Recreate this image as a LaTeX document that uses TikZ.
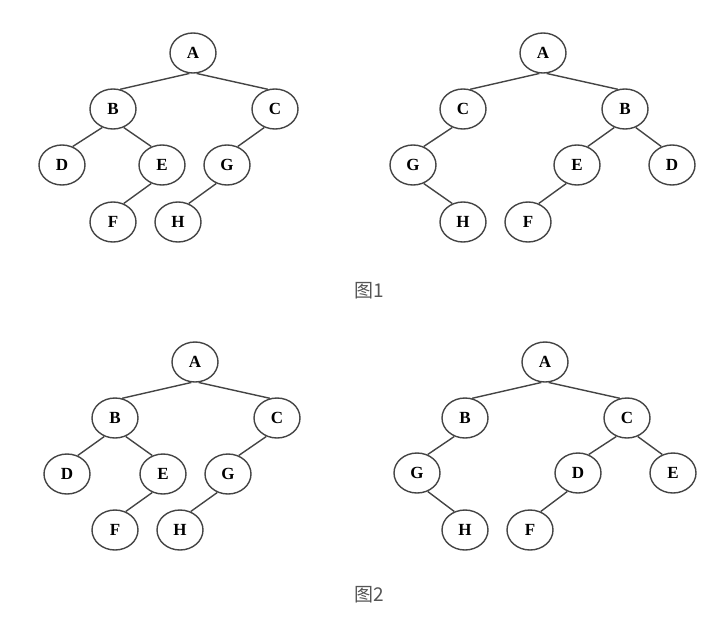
\documentclass[tikz,border=0pt]{standalone}
\usepackage{fontspec}
\setmainfont{Liberation Serif}
\newfontfamily\cjk{Noto Sans CJK SC}
\usetikzlibrary{shapes.geometric}
\definecolor{strokegray}{HTML}{444444}
\definecolor{capgray}{HTML}{555555}
\tikzset{
  tn/.style={ellipse, draw=strokegray, line width=1.4pt, minimum width=46pt, minimum height=40pt, inner sep=0pt, font=\fontsize{17}{17}\selectfont\bfseries, text=black},
  edge/.style={draw=strokegray, line width=1.4pt},
  captext/.style={font=\cjk\fontsize{19}{19}\selectfont, text=capgray, inner sep=0pt}
}
\newcommand\myTL[2]{\draw[edge] (#1.260) -- (#2.70);}
\newcommand\myTR[2]{\draw[edge] (#1.280) -- (#2.110);}
\newcommand\myL[2]{\draw[edge] (#1.240) -- (#2.60);}
\newcommand\myR[2]{\draw[edge] (#1.300) -- (#2.120);}
\begin{document}
\begin{tikzpicture}[x=1pt,y=-1pt]
\useasboundingbox (0,0) rectangle (719,618);
% top-left tree
\node[tn] (aA) at (193,53) {A};
\node[tn] (aB) at (113,109) {B};
\node[tn] (aC) at (275,109) {C};
\node[tn] (aD) at (62,165) {D};
\node[tn] (aE) at (162,165) {E};
\node[tn] (aG) at (227,165) {G};
\node[tn] (aF) at (113,222) {F};
\node[tn] (aH) at (178,222) {H};
\myTL{aA}{aB} \myTR{aA}{aC}
\myL{aB}{aD} \myR{aB}{aE} \myL{aC}{aG}
\myL{aE}{aF} \myL{aG}{aH}
% top-right tree
\node[tn] (bA) at (543,53) {A};
\node[tn] (bC) at (463,109) {C};
\node[tn] (bB) at (625,109) {B};
\node[tn] (bG) at (413,165) {G};
\node[tn] (bE) at (577,165) {E};
\node[tn] (bD) at (672,165) {D};
\node[tn] (bH) at (463,222) {H};
\node[tn] (bF) at (528,222) {F};
\myTL{bA}{bC} \myTR{bA}{bB}
\myL{bC}{bG} \myL{bB}{bE} \myR{bB}{bD}
\myR{bG}{bH} \myL{bE}{bF}
% caption 1
\node[captext] (cap1) at (369,291) {图1};
% bottom-left tree
\node[tn] (cA) at (195,362) {A};
\node[tn] (cB) at (115,418) {B};
\node[tn] (cC) at (277,418) {C};
\node[tn] (cD) at (67,474) {D};
\node[tn] (cE) at (163,474) {E};
\node[tn] (cG) at (228,474) {G};
\node[tn] (cF) at (115,530) {F};
\node[tn] (cH) at (180,530) {H};
\myTL{cA}{cB} \myTR{cA}{cC}
\myL{cB}{cD} \myR{cB}{cE} \myL{cC}{cG}
\myL{cE}{cF} \myL{cG}{cH}
% bottom-right tree
\node[tn] (dA) at (545,362) {A};
\node[tn] (dB) at (465,418) {B};
\node[tn] (dC) at (627,418) {C};
\node[tn] (dG) at (417,473) {G};
\node[tn] (dD) at (578,473) {D};
\node[tn] (dE) at (673,473) {E};
\node[tn] (dH) at (465,530) {H};
\node[tn] (dF) at (530,530) {F};
\myTL{dA}{dB} \myTR{dA}{dC}
\myL{dB}{dG} \myL{dC}{dD} \myR{dC}{dE}
\myR{dG}{dH} \myL{dD}{dF}
% caption 2
\node[captext] (cap2) at (369,595) {图2};
\end{tikzpicture}
\end{document}
